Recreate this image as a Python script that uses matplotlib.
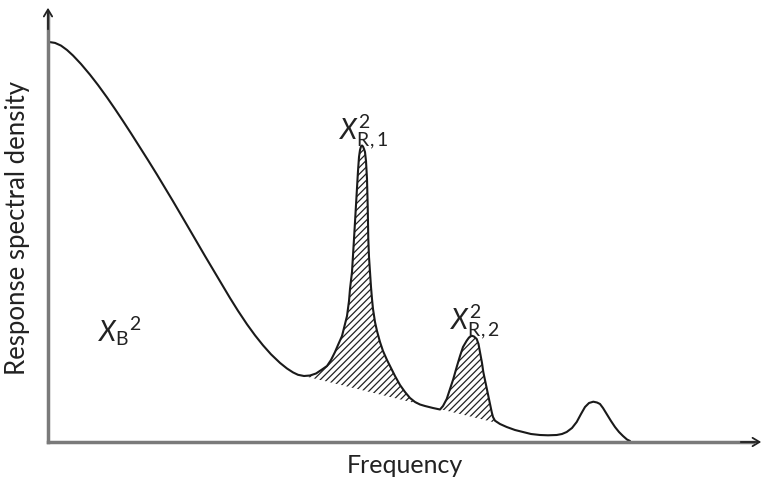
import numpy as np
import matplotlib.pyplot as plt

# Curva de densidade espectral (frequência, densidade) em unidades arbitrárias
frequencia = [1, 7, 13, 19, 25, 33, 42, 50, 59, 67, 75, 83, 92, 100, 109, 117, 125, 132, 139,
              149, 157, 165, 173, 182, 190, 199, 207, 215, 223, 232, 239, 245, 250, 256, 262, 268,
              274, 279, 283, 287, 290, 294, 297, 299, 301, 302, 304, 305, 306, 307, 308, 309, 310,
              311, 312, 313, 314, 315, 316, 317, 318, 319, 319.7, 320.3, 321, 322, 323, 324, 325,
              327, 329, 332, 335, 339, 343, 347, 352, 357, 362, 367, 372, 377, 385, 392,
              395, 398.7, 402, 405.3, 408.7, 412, 415, 418.7, 421, 423.7, 426, 428.7, 430.5, 432,
              434, 435.3, 438, 440.3, 442, 443.7, 445, 447, 452, 458.7, 467, 475, 483, 492, 500,
              508.7, 514, 518.7, 524, 528.7, 533, 537, 541, 545.3, 549, 552, 555, 558.7, 563, 567,
              571, 575, 579, 582]
densidade = [400, 399.1, 396.4, 392, 386.5, 378, 367.3, 357, 344.6, 333, 321, 308.7, 294.6, 281.9,
             267.4, 254.2, 240.8, 228.9, 216.9, 199.7, 186, 172.6, 159.1, 144, 131.2, 117.7, 106.7,
             96.7, 87.7, 79.1, 73.5, 69.6, 67.2, 66, 66.5, 68.5,
             72.5, 76, 82, 90, 97, 106, 118, 126, 141, 153, 170, 186, 203, 220, 238, 253, 271,
             285, 292, 295.5, 296.5, 295.5, 293, 290, 281, 263, 236, 203, 185, 170, 155, 143, 133,
             120, 111, 100, 91, 82, 74, 66, 57, 50, 44, 40, 37.5, 36, 34, 32.5,
             36, 43, 53, 63, 75, 86, 95, 101.3, 104.5, 106.3, 105.5, 103, 98, 90,
             79, 70, 57, 46, 38, 30, 25, 21.3, 18, 15, 12, 10, 8, 7, 6.7,
             7, 8, 10, 14, 20, 28, 35, 39, 40.3, 39.5, 38, 34, 28, 21, 15,
             10, 6, 2.5, 1]

# Linha de base (parcela "background") sob os picos ressonantes
base_frequencia = [256, 449]
base_densidade = [66, 19]

# Rótulos
rotulo_x = 'Frequency'
rotulo_y = 'Response spectral density'
rotulo_fundo = r'$X_{\mathrm{B}}{}^{2}$'
rotulo_pico1 = r'$X_{\mathrm{R,1}}^{2}$'
rotulo_pico2 = r'$X_{\mathrm{R,2}}^{2}$'

plt.rcParams['font.family'] = ['Lato', 'DejaVu Sans']
plt.rcParams['mathtext.fontset'] = 'custom'
plt.rcParams['mathtext.rm'] = 'Lato'
plt.rcParams['mathtext.it'] = 'Lato:italic'
plt.rcParams['hatch.linewidth'] = 0.9

fig = plt.figure(figsize=(7.66, 4.81), dpi=100)
ax = fig.add_axes([48 / 766, 38 / 481, 712 / 766, 435 / 481])
ax.set_xlim(0, 712)
ax.set_ylim(0, 435)
ax.axis('off')

x = np.array(frequencia, dtype=float)
y = np.array(densidade, dtype=float)

# Área hachurada entre a curva e a linha de base
base = np.interp(x, base_frequencia, base_densidade)
mascara = (x >= base_frequencia[0]) & (x <= base_frequencia[1] + 3)
ax.fill_between(x, base, y, where=mascara & (y >= base), interpolate=True,
                facecolor='none', edgecolor='#222222', hatch='/////', linewidth=0)

ax.plot(x, y, color='#1a1a1a', linewidth=1.5, solid_joinstyle='round', solid_capstyle='round')

# Eixos com setas
cinza = '#7a7a7a'
ax.plot([0, 705], [0, 0], color=cinza, linewidth=2.5, clip_on=False)
ax.plot([0, 0], [0, 428], color=cinza, linewidth=2.5, clip_on=False)
estilo_seta = dict(arrowstyle='->,head_length=0.5,head_width=0.3', color='#222222', linewidth=1.3)
ax.annotate('', xy=(716, 0), xytext=(690, 0), arrowprops=estilo_seta, annotation_clip=False)
ax.annotate('', xy=(0, 437), xytext=(0, 410), arrowprops=estilo_seta, annotation_clip=False)

# Textos
ax.text(357, -23, rotulo_x, fontsize=18, ha='center', va='center', color='#222222')
ax.text(-30, 215, rotulo_y, fontsize=18.5, ha='center', va='center', rotation=90, color='#222222')
ax.text(72, 112, rotulo_fundo, fontsize=20, ha='center', va='center', color='#222222')
ax.text(316, 311, rotulo_pico1, fontsize=20, ha='center', va='center', color='#222222')
ax.text(427, 121, rotulo_pico2, fontsize=20, ha='center', va='center', color='#222222')

plt.savefig('out.png', dpi=100)
